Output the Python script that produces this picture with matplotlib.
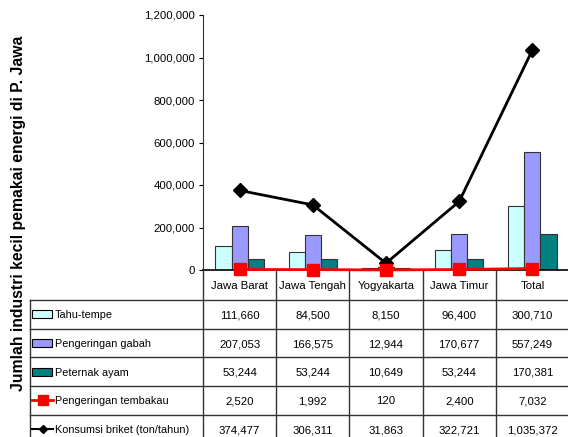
import matplotlib
matplotlib.use("Agg")
import matplotlib.pyplot as plt
from matplotlib.patches import Rectangle

plt.rcParams['font.family'] = ['Liberation Sans', 'DejaVu Sans']

# data
regions = ['Jawa Barat', 'Jawa Tengah', 'Yogyakarta', 'Jawa Timur', 'Total']
tahu_tempe = [111660, 84500, 8150, 96400, 300710]
gabah = [207053, 166575, 12944, 170677, 557249]
ayam = [53244, 53244, 10649, 53244, 170381]
tembakau = [2520, 1992, 120, 2400, 7032]
briket = [374477, 306311, 31863, 322721, 1035372]
yticks = [0, 200000, 400000, 600000, 800000, 1000000, 1200000]

row_names = ['Tahu-tempe', 'Pengeringan gabah', 'Peternak ayam',
             'Pengeringan tembakau', 'Konsumsi briket (ton/tahun)']
rows = [tahu_tempe, gabah, ayam, tembakau, briket]

c_tahu = '#CCFFFF'
c_gabah = '#9999FF'
c_ayam = '#008080'
c_red = '#FF0000'
fs = 8.2
fs_row = 7.8

W, H = 568, 437
fig = plt.figure(figsize=(W / 100, H / 100), dpi=100)

# plot area in pixels
left, right, top, zero_y = 203, 569, 15, 270
ax = fig.add_axes([left / W, 1 - zero_y / H, (right - left) / W, (zero_y - top) / H])

x = range(len(regions))
bw = 0.22
ax.bar([i - bw for i in x], tahu_tempe, bw, color=c_tahu, edgecolor='#333333', lw=0.8, zorder=2)
ax.bar(list(x), gabah, bw, color=c_gabah, edgecolor='#333333', lw=0.8, zorder=2)
ax.bar([i + bw for i in x], ayam, bw, color=c_ayam, edgecolor='#333333', lw=0.8, zorder=2)
ax.plot(x, briket, color='black', lw=2, marker='D', ms=7, zorder=4)
ax.plot(x, tembakau, color=c_red, lw=2, marker='s', ms=8.5, zorder=5, clip_on=False)

ax.set_xlim(-0.5, len(regions) - 0.5)
ax.set_ylim(0, 1200000)
ax.set_yticks(yticks)
ax.set_yticklabels([f'{v:,}' for v in yticks], fontsize=fs)
ax.set_xticks([])
ax.tick_params(axis='y', length=3, width=0.8, pad=3)
for s in ['top', 'right']:
    ax.spines[s].set_visible(False)
ax.spines['left'].set_color('#333333')
ax.spines['bottom'].set_color('black')
ax.spines['bottom'].set_linewidth(1.2)
ax.patch.set_alpha(0)

fig.text(19 / W, 1 - 213 / H, 'Jumlah industri kecil pemakai energi di P. Jawa',
         rotation=90, ha='center', va='center', fontsize=11.3, fontweight='bold')

# table drawn in pixel coordinates
tax = fig.add_axes([0, 0, 1, 1])
tax.set_xlim(0, W)
tax.set_ylim(H, 0)
tax.axis('off')
tax.patch.set_alpha(0)

colw = (right - left) / len(regions)
tab_left = 30
head_h = 30
row_h = 28.7
lc = '#333333'
bottom_y = zero_y + head_h + row_h * len(rows)

# header row
for i, r in enumerate(regions):
    xc = left + colw * (i + 0.5)
    tax.text(xc, zero_y + head_h / 2 + 1, r, ha='center', va='center', fontsize=fs)
# vertical lines
for i in range(len(regions) + 1):
    xv = left + colw * i
    tax.plot([xv, xv], [zero_y, bottom_y], color=lc, lw=1)
tax.plot([tab_left, tab_left], [zero_y + head_h, bottom_y], color=lc, lw=1)
# horizontal lines
for j in range(len(rows) + 1):
    yh = zero_y + head_h + row_h * j
    tax.plot([tab_left, right], [yh, yh], color=lc, lw=1)

for j, (name, vals) in enumerate(zip(row_names, rows)):
    yc = zero_y + head_h + row_h * (j + 0.5)
    if j < 3:
        fc = [c_tahu, c_gabah, c_ayam][j]
        tax.add_patch(Rectangle((32, yc - 4), 20, 8, facecolor=fc, edgecolor='black', lw=0.8))
    elif j == 3:
        tax.plot([32, 53], [yc, yc], color=c_red, lw=2)
        tax.plot([42.5], [yc], marker='s', ms=7.5, color=c_red)
    else:
        tax.plot([32, 53], [yc, yc], color='black', lw=1.5)
        tax.plot([42.5], [yc], marker='D', ms=4.5, color='black')
    tax.text(55, yc + 1, name, ha='left', va='center', fontsize=fs_row)
    for i, v in enumerate(vals):
        xc = left + colw * (i + 0.5)
        tax.text(xc, yc + 1, f'{v:,}', ha='center', va='center', fontsize=fs)

fig.savefig('out.png', dpi=100)
